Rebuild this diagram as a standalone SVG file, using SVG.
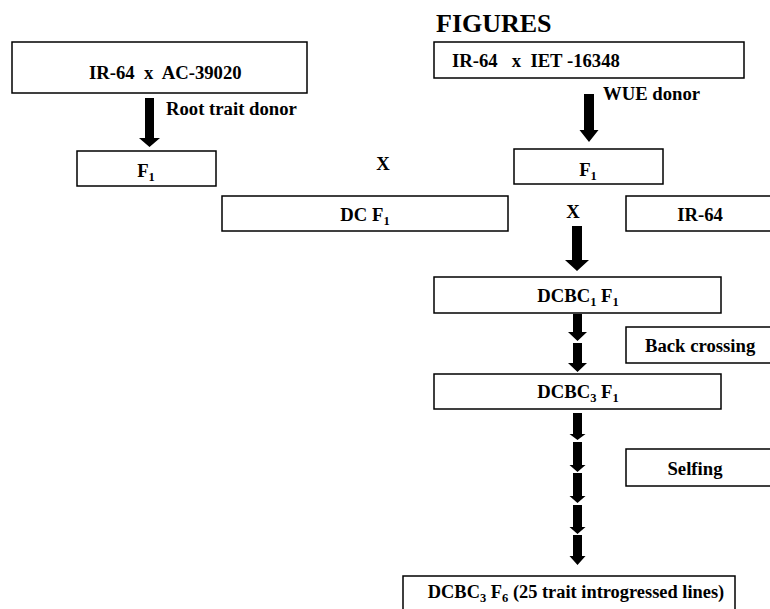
<svg xmlns="http://www.w3.org/2000/svg" width="770" height="609" viewBox="0 0 770 609">
<style>
.box{fill:#fff;stroke:#000;stroke-width:1.5}
.t{font-family:"Liberation Serif","Times New Roman",serif;font-weight:bold;font-size:18.7px;fill:#000}
.c{text-anchor:middle}
.arr{fill:#000}
</style>
<rect width="770" height="609" fill="#fff"/>
<text class="t" x="436" y="32" style="font-size:26px">FIGURES</text>

<g id="node-ir64-ac">
<rect class="box" x="12" y="42" width="295" height="51"/>
<text class="t" x="89" y="79" xml:space="preserve">IR-64  x  AC-39020</text>
</g>
<g id="node-ir64-iet">
<rect class="box" x="434" y="42" width="310" height="36"/>
<text class="t" x="452" y="67" xml:space="preserve">IR-64   x  IET -16348</text>
</g>
<g id="node-f1-left">
<rect class="box" x="77" y="151" width="139" height="35"/>
<text class="t c" x="146" y="177">F<tspan font-size="12.5" dy="4">1</tspan></text>
</g>
<g id="node-f1-right">
<rect class="box" x="514" y="149" width="149" height="35"/>
<text class="t c" x="588" y="176">F<tspan font-size="12.5" dy="4">1</tspan></text>
</g>
<g id="node-dcf1">
<rect class="box" x="222" y="196" width="286" height="35"/>
<text class="t c" x="365" y="221">DC F<tspan font-size="12.5" dy="4">1</tspan></text>
</g>
<g id="node-ir64">
<rect class="box" x="626" y="196" width="146" height="35"/>
<text class="t c" x="700" y="221">IR-64</text>
</g>
<g id="node-dcbc1f1">
<rect class="box" x="434" y="277" width="287" height="36"/>
<text class="t c" x="578" y="302">DCBC<tspan font-size="12.5" dy="4">1</tspan><tspan dy="-4"> F</tspan><tspan font-size="12.5" dy="4">1</tspan></text>
</g>
<g id="node-backcrossing">
<rect class="box" x="626" y="327" width="146" height="36"/>
<text class="t" x="645" y="352">Back crossing</text>
</g>
<g id="node-dcbc3f1">
<rect class="box" x="434" y="374" width="287" height="35"/>
<text class="t c" x="578" y="398">DCBC<tspan font-size="12.5" dy="4">3</tspan><tspan dy="-4"> F</tspan><tspan font-size="12.5" dy="4">1</tspan></text>
</g>
<g id="node-selfing">
<rect class="box" x="626" y="449" width="146" height="37"/>
<text class="t c" x="695" y="475">Selfing</text>
</g>
<g id="node-final">
<rect class="box" x="403" y="576" width="332" height="40"/>
<text class="t c" x="576" y="598" style="font-size:18.4px">DCBC<tspan font-size="12.5" dy="4">3</tspan><tspan dy="-4"> F</tspan><tspan font-size="12.5" dy="4">6</tspan><tspan dy="-4"> (25 trait introgressed lines)</tspan></text>
</g>

<g id="connectors">
<polygon class="arr" points="145,98 154,98 154,138 160,138 149.5,147 139,138 145,138"/>
<text class="t" x="166" y="115">Root trait donor</text>
<polygon class="arr" points="584,94 594,94 594,130 598.5,130 589,142 579.5,130 584,130"/>
<text class="t" x="603" y="100">WUE donor</text>
<text class="t c" x="383" y="170">X</text>
<text class="t c" x="573" y="218">X</text>
<polygon class="arr" points="572,226 582,226 582,260 589,260 577,271 565,260 572,260"/>
<polygon class="arr" points="573,314 582,314 582,332 587,332 577.5,341 568,332 573,332"/>
<polygon class="arr" points="573,343 582,343 582,363 587,363 577.5,372 568,363 573,363"/>
<polygon class="arr" points="573,413 582,413 582,434 585.5,434 577.5,440 569.5,434 573,434"/>
<polygon class="arr" points="573,442 582,442 582,465 585.5,465 577.5,472 569.5,465 573,465"/>
<polygon class="arr" points="573,473 582,473 582,496 585.5,496 577.5,503 569.5,496 573,496"/>
<polygon class="arr" points="573,505 582,505 582,527 585.5,527 577.5,534 569.5,527 573,527"/>
<polygon class="arr" points="573,535 582,535 582,556 585.5,556 577.5,565 569.5,556 573,556"/>
</g>
</svg>
